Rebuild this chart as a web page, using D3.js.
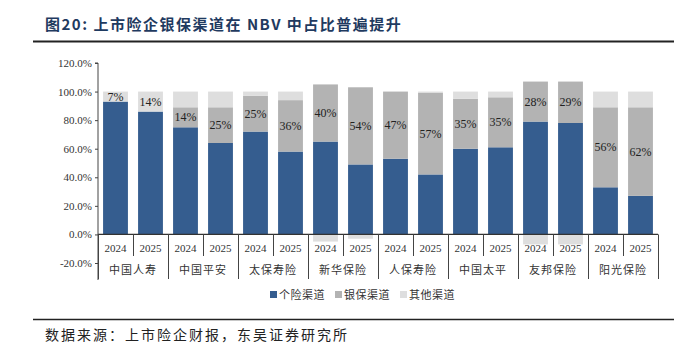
<!DOCTYPE html>
<html>
<head>
<meta charset="UTF-8" />
<title>上市险企银保渠道在NBV中占比</title>
<script src="https://d3js.org/d3.v7.min.js"></script>
<style>
  body { margin: 0; background: #fff; }
</style>
</head>
<body>
<svg id="chart" width="689" height="352"></svg>
<script>
// data (shares of NBV, %)
const companies = ["中国人寿", "中国平安", "太保寿险", "新华保险", "人保寿险", "中国太平", "友邦保险", "阳光保险"];
const years = ["2024", "2025"];
const personal = [93, 86, 75, 64, 72, 58, 65, 49, 53, 42, 60, 61, 79, 78, 33, 27];
const bank     = [0, 0, 14, 25, 25, 36, 40, 54, 47, 57, 35, 35, 28, 29, 56, 62];
const other    = [7, 14, 11, 11, 3, 6, -5, -3, 0, 1, 5, 4, -7, -7, 11, 11];
const labels   = ["7%", "14%", "14%", "25%", "25%", "36%", "40%", "54%", "47%", "57%", "35%", "35%", "28%", "29%", "56%", "62%"];
const yTicks   = [-20, 0, 20, 40, 60, 80, 100, 120];
const seriesNames = ["个险渠道", "银保渠道", "其他渠道"];

const blue = "#355d8f", gray = "#b3b3b3", light = "#dedede", ink = "#333";
const colors = [blue, gray, light];

const svg = d3.select("#chart");
const serif = "'Liberation Serif', 'Times New Roman', serif";
const cjk = "'Noto Sans CJK SC', sans-serif";

// title + rules
svg.append("text").attr("x", 45).attr("y", 30)
  .attr("font-family", cjk).attr("font-weight", "bold").attr("font-size", 15)
  .attr("letter-spacing", 1.5).attr("fill", "#1f3a60")
  .text("图20:  上市险企银保渠道在 NBV 中占比普遍提升");
svg.append("line").attr("x1", 33).attr("x2", 674).attr("y1", 41.5).attr("y2", 41.5)
  .attr("stroke", "#222").attr("stroke-width", 2);
svg.append("line").attr("x1", 33).attr("x2", 674).attr("y1", 319.5).attr("y2", 319.5)
  .attr("stroke", "#222").attr("stroke-width", 1.5);
svg.append("text").attr("x", 45).attr("y", 340)
  .attr("font-family", cjk).attr("font-size", 14).attr("letter-spacing", 2).attr("fill", "#222")
  .text("数据来源：上市险企财报，东吴证券研究所");

// scales
const bars = d3.range(personal.length);
const x = d3.scaleBand().domain(bars).range([98, 658]).paddingInner(0.29).paddingOuter(0.145);
const y = d3.scaleLinear().domain([-20, 120]).range([263, 63]);

// stacked segments (negatives stack below zero)
const rows = bars.map(i => ({ i, vals: [personal[i], bank[i], other[i]] }));
rows.forEach(r => {
  let pos = 0, neg = 0;
  r.segs = r.vals.map((v, k) => {
    let y0, y1;
    if (v >= 0) { y0 = pos; y1 = pos + v; pos = y1; }
    else { y0 = neg + v; y1 = neg; neg = y0; }
    return { k, y0, y1, v };
  });
});

const g = svg.append("g");
g.selectAll("g.bar").data(rows).join("g").attr("class", "bar")
  .selectAll("rect").data(d => d.segs.filter(s => s.v !== 0).map(s => ({ ...s, i: d.i })))
  .join("rect")
  .attr("x", d => x(d.i)).attr("width", x.bandwidth())
  .attr("y", d => y(d.y1)).attr("height", d => y(d.y0) - y(d.y1))
  .attr("fill", d => colors[d.k]);

// value labels: middle of bank segment, or of the top segment when there is none
g.selectAll("text.lab").data(rows).join("text").attr("class", "lab")
  .attr("x", d => x(d.i) + x.bandwidth() / 2)
  .attr("y", d => {
    const s = d.segs[1].v > 0 ? d.segs[1] : d.segs[2];
    return (y(s.y0) + y(s.y1)) / 2 + 4;
  })
  .attr("text-anchor", "middle").attr("font-family", serif).attr("font-size", 12).attr("fill", "#222")
  .text(d => labels[d.i]);

// y axis
const yAxis = d3.axisLeft(y).tickValues(yTicks).tickSize(3).tickFormat(d => d.toFixed(1) + "%");
const ya = svg.append("g").attr("transform", "translate(98,0)").call(yAxis);
ya.select(".domain").attr("stroke", "#444").attr("d", "M-3," + y(120) + "H0V" + 280);
ya.selectAll(".tick line").attr("stroke", "#444");
ya.selectAll("text").attr("font-family", serif).attr("font-size", 11).attr("fill", ink).attr("x", -6);

// zero line
svg.append("line").attr("x1", 98).attr("x2", 658).attr("y1", y(0)).attr("y2", y(0))
  .attr("stroke", "#333").attr("stroke-width", 1.2);

// category axis: year labels, company labels and dividers
const xa = svg.append("g");
xa.selectAll("text.yr").data(bars).join("text").attr("class", "yr")
  .attr("x", i => x(i) + x.bandwidth() / 2).attr("y", 252)
  .attr("text-anchor", "middle").attr("font-family", serif).attr("font-size", 11).attr("fill", ink)
  .text(i => years[i % 2]);
const step = x.step();
xa.selectAll("text.co").data(companies).join("text").attr("class", "co")
  .attr("x", (d, j) => 98 + step * (2 * j + 1)).attr("y", 274)
  .attr("text-anchor", "middle").attr("font-family", cjk).attr("font-size", 11)
  .attr("letter-spacing", 1).attr("fill", ink)
  .text(d => d);
xa.selectAll("line").data(d3.range(17)).join("line")
  .attr("x1", k => 98 + step * k + 0.5).attr("x2", k => 98 + step * k + 0.5)
  .attr("y1", y(0)).attr("y2", k => k % 2 ? 256 : 279)
  .attr("stroke", "#444").attr("stroke-width", 1);

// legend
const legX = [270, 335, 400];
const leg = svg.append("g").selectAll("g").data(seriesNames).join("g")
  .attr("transform", (d, k) => `translate(${legX[k]},291)`);
leg.append("rect").attr("width", 7).attr("height", 7).attr("fill", (d, k) => colors[k]);
leg.append("text").attr("x", 9).attr("y", 7.5)
  .attr("font-family", cjk).attr("font-size", 11).attr("letter-spacing", 0.5).attr("fill", ink)
  .text(d => d);
</script>
</body>
</html>
